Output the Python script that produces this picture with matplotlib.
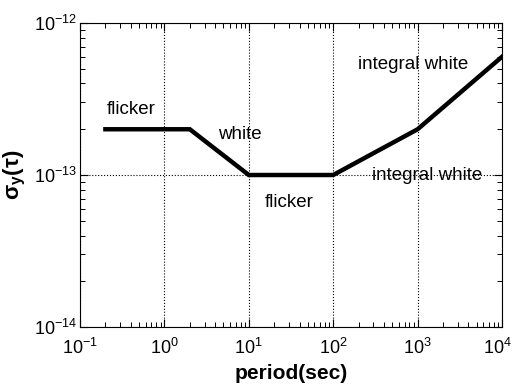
import numpy as np
import matplotlib
matplotlib.use("Agg")
import matplotlib.pyplot as plt
import matplotlib.transforms as mtransforms
from matplotlib.ticker import LogLocator, NullFormatter

plt.rcParams['font.family'] = ['Liberation Sans', 'DejaVu Sans']
plt.rcParams['mathtext.fontset'] = 'custom'
plt.rcParams['mathtext.rm'] = 'Liberation Sans'
plt.rcParams['mathtext.it'] = 'Liberation Sans:italic'
plt.rcParams['mathtext.bf'] = 'Liberation Sans:bold'

# Piecewise noise model (period in sec, Allan deviation)
period = [0.2, 2, 10, 100, 1000, 10000]
sigma = [2e-13, 2e-13, 1e-13, 1e-13, 2e-13, 6e-13]

# Region labels: (text, x, y)
labels = ["flicker", "white", "flicker", "integral white", "integral white"]
label_x = [0.21, 4.3, 15.5, 288, 197]
label_y = [2.71e-13, 1.86e-13, 6.64e-14, 1.0e-13, 5.3e-13]

xticks = [1e-1, 1e0, 1e1, 1e2, 1e3, 1e4]
xtick_labels = [r"$\mathregular{10^{-1}}$", r"$\mathregular{10^{0}}$", r"$\mathregular{10^{1}}$",
                r"$\mathregular{10^{2}}$", r"$\mathregular{10^{3}}$", r"$\mathregular{10^{4}}$"]
yticks = [1e-14, 1e-13, 1e-12]
ytick_labels = [r"$\mathregular{10^{-14}}$", r"$\mathregular{10^{-13}}$", r"$\mathregular{10^{-12}}$"]

fig = plt.figure(figsize=(5.14, 3.86), dpi=100)
ax = fig.add_axes([0.1556, 0.1528, 0.8211, 0.7876])

ax.loglog(period, sigma, color='black', lw=3.2, solid_joinstyle='miter')
ax.set_xlim(1e-1, 1e4)
ax.set_ylim(1e-14, 1e-12)

ax.set_xticks(xticks)
ax.set_xticklabels(xtick_labels)
ax.set_yticks(yticks)
ax.set_yticklabels(ytick_labels)
ax.xaxis.set_minor_locator(LogLocator(base=10, subs=np.arange(2, 10), numticks=20))
ax.yaxis.set_minor_locator(LogLocator(base=10, subs=np.arange(2, 10), numticks=20))
ax.xaxis.set_minor_formatter(NullFormatter())
ax.yaxis.set_minor_formatter(NullFormatter())
ax.tick_params(which='both', direction='in', top=True, right=True, labelsize=13)
ax.tick_params(which='major', length=6, width=0.8)
ax.tick_params(which='minor', length=3.5, width=0.7)
ax.tick_params(axis='x', which='major', pad=8)
ax.tick_params(axis='y', which='major', pad=2)

# keep the last x label inside the figure
last = ax.get_xticklabels()[-1]
last.set_transform(last.get_transform() + mtransforms.ScaledTranslation(-5 / 100, 0, fig.dpi_scale_trans))

ax.grid(True, which='major', linestyle=':', color='black', linewidth=0.8)
for s in ax.spines.values():
    s.set_linewidth(0.8)

for t, x, y in zip(labels, label_x, label_y):
    ax.text(x, y, t, fontsize=13.5, ha='left', va='center')

ax.set_xlabel("period(sec)", fontsize=15, fontweight='bold', labelpad=4)
ax.set_ylabel(r"$\mathbf{\sigma_y(\tau)}$", fontsize=16, labelpad=4)

fig.savefig("out.png", dpi=100)
